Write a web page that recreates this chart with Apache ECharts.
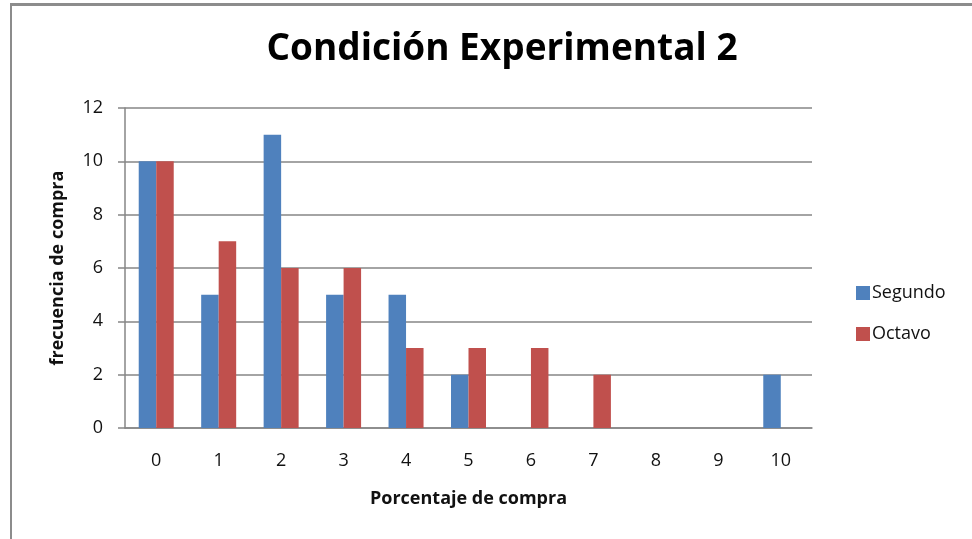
<!DOCTYPE html>
<html>
<head>
    <meta charset="UTF-8">
    <title>Condición Experimental 2</title>
    <script src="https://cdn.jsdelivr.net/npm/echarts@6/dist/echarts.min.js"></script>
    <style>
        body { margin: 0; background: #fff; }
        #frame { position: absolute; left: 10px; top: 3px; width: 970px; height: 540px;
                 border-left: 2px solid #8c8c8c; border-top: 3px solid #8c8c8c; }
    </style>
</head>
<body>
<div id="frame"></div>
<div id="main" style="position:absolute;left:0;top:0;width: 972px;height:539px;"></div>
<script type="text/javascript">
    // datos
    var categorias = ['0', '1', '2', '3', '4', '5', '6', '7', '8', '9', '10'];
    var segundo = [10, 5, 11, 5, 5, 2, 0, 0, 0, 0, 2];
    var octavo = [10, 7, 6, 6, 3, 3, 3, 2, 0, 0, 0];
    var yTicks = [0, 2, 4, 6, 8, 10, 12];

    var fuente = 'Open Sans';
    var myChart = echarts.init(document.getElementById('main'), null, {renderer: 'canvas'});

    var option = {
        animation: false,
        title: {
            text: 'Condición Experimental 2',
            left: 497,
            top: 26,
            textAlign: 'center',
            textStyle: {fontFamily: fuente, fontSize: 37, fontWeight: 'bold', color: '#000'}
        },
        legend: {
            orient: 'vertical',
            left: 851,
            top: 279,
            itemWidth: 14,
            itemHeight: 14,
            itemGap: 23,
            icon: 'rect',
            textStyle: {fontFamily: fuente, fontSize: 18, color: '#111', padding: [0, 0, 0, -3]},
            data: ['Segundo', 'Octavo']
        },
        grid: {left: 125, right: 160, top: 108, bottom: 111},
        xAxis: {
            type: 'category',
            data: categorias,
            name: 'Porcentaje de compra',
            nameLocation: 'middle',
            nameGap: 62,
            nameTextStyle: {fontFamily: fuente, fontSize: 18, fontWeight: 'bold', color: '#111'},
            axisLine: {lineStyle: {color: '#868686', width: 1.5}},
            axisTick: {show: false},
            axisLabel: {fontFamily: fuente, fontSize: 18, color: '#111', margin: 24}
        },
        yAxis: {
            type: 'value',
            min: yTicks[0],
            max: yTicks[yTicks.length - 1],
            interval: 2,
            name: 'frecuencia de compra',
            nameLocation: 'middle',
            nameGap: 58,
            nameTextStyle: {fontFamily: fuente, fontSize: 18, fontWeight: 'bold', color: '#111'},
            axisLine: {show: true, lineStyle: {color: '#868686', width: 1.5}},
            axisTick: {show: true, inside: false, length: 7, lineStyle: {color: '#868686', width: 1.5}},
            splitLine: {lineStyle: {color: '#868686', width: 1.5}},
            axisLabel: {fontFamily: fuente, fontSize: 18, color: '#111', margin: 22}
        },
        series: [
            {
                name: 'Segundo',
                type: 'bar',
                data: segundo,
                barWidth: 17.5,
                barGap: '0%',
                itemStyle: {color: '#4F81BD'}
            },
            {
                name: 'Octavo',
                type: 'bar',
                data: octavo,
                barWidth: 17.5,
                barGap: '0%',
                itemStyle: {color: '#C0504D'}
            }
        ]
    };

    myChart.setOption(option);
</script>
</body>
</html>
